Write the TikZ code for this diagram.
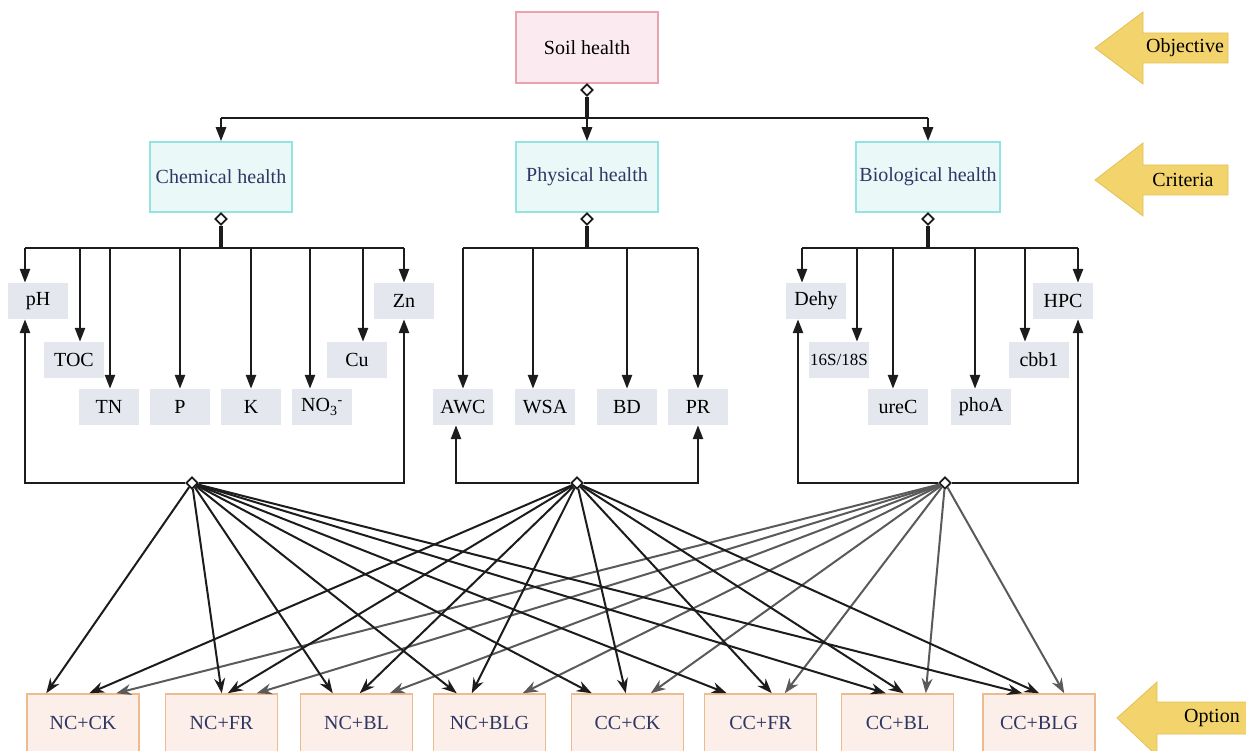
\documentclass[tikz,border=0pt]{standalone}
\usepackage{fontspec}
\setmainfont{Liberation Serif}
\usetikzlibrary{arrows.meta, positioning, shapes.geometric, calc}
\definecolor{soilred}{HTML}{E8A3AC}
\definecolor{soillight}{HTML}{FBEAF0}
\definecolor{critcyan}{HTML}{93E3E3}
\definecolor{critlight}{HTML}{EBF8F8}
\definecolor{critink}{HTML}{2E3664}
\definecolor{indgray}{HTML}{E4E8EE}
\definecolor{optorange}{HTML}{EDBB8E}
\definecolor{optlight}{HTML}{FCEEE8}
\definecolor{levelgold}{HTML}{F3D46C}
\definecolor{leveledge}{HTML}{E3C055}
\definecolor{fangray}{HTML}{5A5A5A}
\definecolor{lineblack}{HTML}{1C1C1C}

\begin{document}
\begin{tikzpicture}[
    x=1pt, y=-1pt, font=\fontsize{20}{24}\selectfont,
    goal/.style={draw=soilred, fill=soillight, line width=1.5pt, minimum width=142pt, minimum height=71pt},
    crit/.style={draw=critcyan, fill=critlight, line width=1.5pt, minimum width=142pt, minimum height=70pt, text=critink},
    ind/.style={fill=indgray, minimum width=60pt, minimum height=36pt, inner sep=0pt},
    opt/.style={draw=optorange, fill=optlight, line width=1.5pt, minimum width=112pt, minimum height=58pt, text=critink},
    hub/.style={diamond, draw=lineblack, fill=white, line width=1.8pt, minimum size=12pt, inner sep=0pt},
    tree/.style={draw=lineblack, line width=2.6pt, -{Triangle[length=14pt,width=10pt]}},
    bus/.style={draw=lineblack, line width=2.6pt},
    stem/.style={draw=lineblack, line width=3.6pt},
    fan/.style={draw=lineblack, line width=2pt, -{Stealth[length=15pt,width=11pt]}},
    levelarrow/.style={fill=levelgold, draw=leveledge, line width=0.8pt},
]
    \useasboundingbox (0,0) rectangle (1246,751);

    % Objective and criteria
    \node[goal] (soil) at (587,47.5) {Soil health};
    \node[hub] (dsoil) at (587,90) {};
    \node[crit] (chem) at (221,177) {Chemical health};
    \node[crit] (phys) at (587,177) {Physical health};
    \node[crit] (bio) at (928,177) {Biological health};
    \coordinate (topbus) at (587,118);
    \draw[stem] (dsoil) -- (topbus);
    \draw[bus] (chem.north |- topbus) -- (bio.north |- topbus);
    \draw[tree] (chem.north |- topbus) -- (chem.north);
    \draw[tree] (topbus) -- (phys.north);
    \draw[tree] (bio.north |- topbus) -- (bio.north);

    % Chemical indicators
    \node[hub] (dchem) at (221,219) {};
    \coordinate (chembus) at (221,248);
    \draw[stem] (dchem) -- (chembus);
    \foreach \n/\t/\x/\y/\s in {pH/pH/38/301/-13, TOC/TOC/74/360/6, TN/TN/109/407/1, P/P/180/407/0,
        K/K/251/407/0, NO3/{NO\textsubscript{3}\textsuperscript{-}}/322/407/-12, Cu/Cu/357/360/6, Zn/Zn/404/301/0}{
        \node[ind] (\n) at (\x,\y) {\t};
        \draw[tree] ([xshift=\s pt]\n.north |- chembus) -- ([xshift=\s pt]\n.north);
    }
    \draw[bus] ([xshift=-13pt]pH.north |- chembus) -- (Zn.north |- chembus);
    \node[hub] (hubC) at (192,483) {};
    \draw[tree] (hubC) -| ([xshift=-13pt]pH.south);
    \draw[tree] (hubC) -| (Zn.south);

    % Physical indicators
    \node[hub] (dphys) at (587,219) {};
    \coordinate (physbus) at (587,248);
    \draw[stem] (dphys) -- (physbus);
    \foreach \n/\t/\x/\s in {AWC/AWC/463/0, WSA/WSA/545/-12, BD/BD/627/0, PR/PR/698/0}{
        \node[ind] (\n) at (\x,407) {\t};
        \draw[tree] ([xshift=\s pt]\n.north |- physbus) -- ([xshift=\s pt]\n.north);
    }
    \draw[bus] (AWC.north |- physbus) -- (PR.north |- physbus);
    \node[hub] (hubP) at (577,483) {};
    \draw[tree] (hubP) -| ([xshift=-7pt]AWC.south);
    \draw[tree] (hubP) -| (PR.south);

    % Biological indicators
    \node[hub] (dbio) at (928,219) {};
    \coordinate (biobus) at (928,248);
    \draw[stem] (dbio) -- (biobus);
    \foreach \n/\t/\x/\y/\s in {Dehy/Dehy/816/301/-14, S16/{\fontsize{17}{20}\selectfont 16S/18S}/839/360/18,
        ureC/ureC/898/407/-5, phoA/phoA/981/407/-6, cbb/cbb1/1039/360/-14, HPC/HPC/1063/301/15}{
        \node[ind] (\n) at (\x,\y) {\t};
        \draw[tree] ([xshift=\s pt]\n.north |- biobus) -- ([xshift=\s pt]\n.north);
    }
    \draw[bus] ([xshift=-14pt]Dehy.north |- biobus) -- ([xshift=15pt]HPC.north |- biobus);
    \node[hub] (hubB) at (945,483) {};
    \draw[tree] (hubB) -| ([xshift=-18pt]Dehy.south);
    \draw[tree] (hubB) -| ([xshift=15pt]HPC.south);

    % Options
    \foreach \n/\t/\x in {o1/NC+CK/83, o2/NC+FR/221.5, o3/NC+BL/356.5, o4/NC+BLG/489.5,
        o5/CC+CK/627.5, o6/CC+FR/760.5, o7/CC+BL/897.5, o8/CC+BLG/1039}
        \node[opt] (\n) at (\x,723) {\t};
    \foreach \n/\c in {o1/90, o2/92, o3/90, o4/90, o5/80, o6/81, o7/85, o8/82}
        \draw[fan, draw=fangray] (hubB) -- ([xshift=\c pt]\n.north west);
    \foreach \n/\a/\b in {o1/20/63, o2/57/63, o3/33/60, o4/24/39, o5/21/55, o6/23/68, o7/45/63, o8/40/57}{
        \draw[fan] (hubC) -- ([xshift=\a pt]\n.north west);
        \draw[fan] (hubP) -- ([xshift=\b pt]\n.north west);
    }

    % Level arrows
    \draw[levelarrow] (1095,48) -- (1143,12) -- (1143,33) -- (1228,33) -- (1228,63) -- (1143,63) -- (1143,84) -- cycle;
    \node (objlbl) at (1185,48) {Objective};
    \draw[levelarrow] (1095,180) -- (1143,143) -- (1143,165) -- (1228,165) -- (1228,195) -- (1143,195) -- (1143,216) -- cycle;
    \node (critlbl) at (1183,180) {Criteria};
    \draw[levelarrow] (1117,718) -- (1157,682) -- (1157,702) -- (1250,702) -- (1250,734) -- (1157,734) -- (1157,756) -- cycle;
    \node (optlbl) at (1212,718) {Option};
\end{tikzpicture}
\end{document}
